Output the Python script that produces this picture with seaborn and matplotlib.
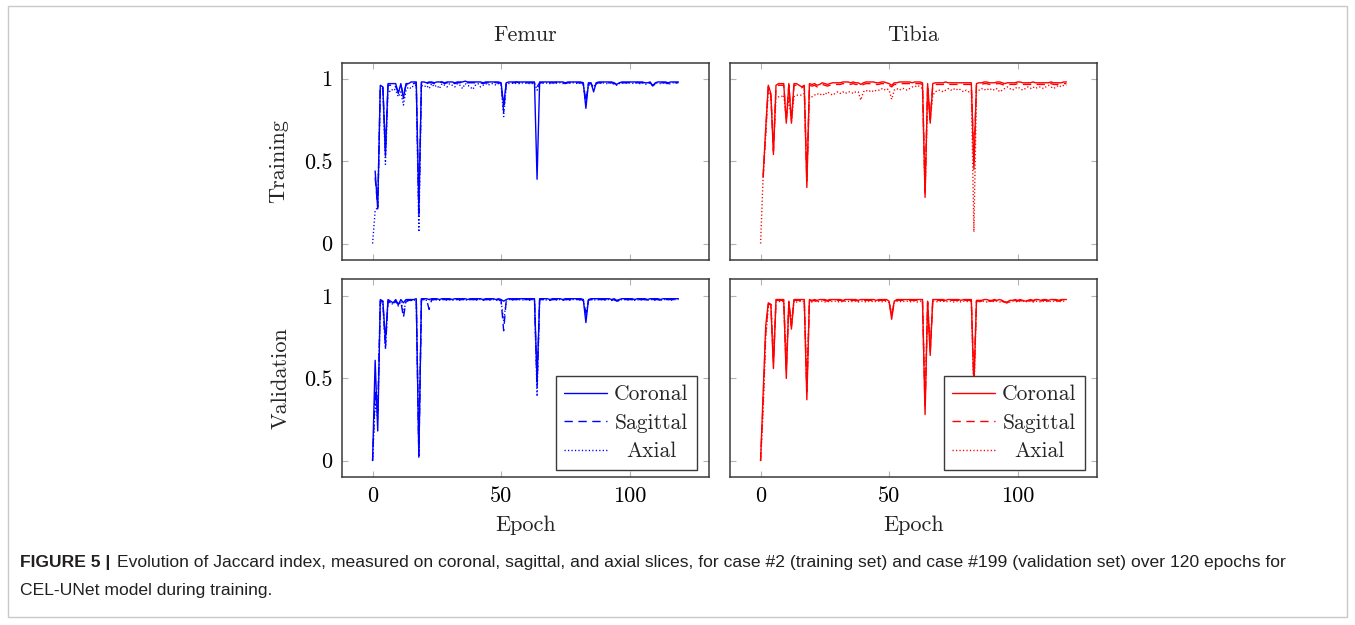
import matplotlib
matplotlib.use("Agg")
import matplotlib.pyplot as plt
import numpy as np
import pandas as pd
import seaborn as sns
from matplotlib.patches import Rectangle

nan = float("nan")

# ---------------- data (Jaccard index per epoch) ----------------
epochs = list(range(120))

femur_train_coronal = [
    nan, .44, .21, .96, .95, .53, .97, .97, .97, .97,
    .91, .97, .88, .97, .97, .98, .98, .98, .21, .98,
    .98, .975, .98, .98, .975, .98, .98, .98, .975, .98,
    .98, .98, .975, .98, .98, .98, .985, .98, .98, .98,
    .98, .98, .98, .975, .98, .98, .98, .98, .98, .98,
    .975, .84, .975, .98, .98, .98, .98, .98, .98, .98,
    .98, .98, .98, .98, .39, .98, .98, .98, .98, .98,
    .98, .98, .98, .98, .98, .975, .98, .98, .98, .98,
    .98, .98, .975, .82, .975, .975, .92, .975, .98, .98,
    .98, .98, .98, .98, .975, .965, .975, .98, .98, .98,
    .98, .98, .98, .98, .98, .98, .975, .975, .98, .955,
    .975, .98, .98, .98, .98, .975, .98, .98, .98, .98]
femur_train_sagittal = [
    nan, .40, .22, .95, .95, .56, .96, .96, .97, .95,
    .92, .96, .90, .96, .97, .97, .97, .975, .16, .975,
    .975, .97, .975, .975, .97, .975, .975, .98, .97, .975,
    .975, .975, .97, .975, .975, .98, .98, .975, .975, .975,
    .975, .975, .975, .97, .975, .975, .975, .98, .975, .975,
    .97, .80, .97, .975, .975, .975, .98, .975, .975, .975,
    .975, .975, .975, .975, .95, .975, .975, .975, .975, .975,
    .975, .975, .98, .975, .975, .97, .975, .975, .975, .975,
    .975, .975, .97, .86, .97, .97, .94, .97, .975, .975,
    .975, .975, .975, .975, .97, .965, .97, .975, .975, .975,
    .975, .975, .975, .975, .975, .975, .97, .97, .975, .96,
    .97, .975, .975, .975, .975, .97, .975, .975, .975, .975]
femur_train_axial = [
    .00, .20, .22, .93, .94, .48, .93, .92, .94, .93,
    .89, .92, .84, .93, .95, .94, .96, .96, .07, .96,
    .95, .96, .94, .97, .95, .96, .94, .97, .96, .95,
    .97, .96, .95, .97, .96, .94, .97, .96, .95, .935,
    .96, .97, .95, .96, .97, .96, .97, .97, .96, .97,
    .96, .77, .96, .97, .97, .975, .97, .97, .975, .97,
    .975, .97, .97, .975, .93, .97, .975, .97, .975, .97,
    .975, .97, .975, .975, .97, .975, .97, .975, .975, .97,
    .975, .97, .96, .86, .96, .965, .95, .97, .975, .97,
    .975, .97, .975, .975, .965, .96, .97, .975, .97, .975,
    .975, .97, .975, .975, .97, .975, .965, .97, .975, .955,
    .97, .975, .97, .975, .975, .965, .97, .975, .975, .975]

tibia_train_coronal = [
    nan, .41, .70, .96, .91, .54, .96, .97, .97, .97,
    .73, .97, .73, .97, .97, .96, .95, .96, .34, .97,
    .965, .97, .96, .965, .975, .97, .965, .97, .975, .975,
    .975, .975, .98, .98, .98, .975, .98, .975, .975, .965,
    .975, .98, .98, .98, .98, .975, .975, .98, .98, .975,
    .97, .96, .975, .975, .98, .98, .98, .98, .98, .975,
    .98, .98, .98, .975, .28, .97, .73, .97, .975, .975,
    .975, .975, .98, .975, .975, .975, .975, .975, .975, .975,
    .975, .975, .975, .45, .97, .975, .975, .98, .98, .975,
    .975, .975, .98, .98, .975, .97, .975, .975, .975, .975,
    .98, .98, .975, .975, .975, .975, .98, .975, .975, .975,
    .975, .975, .975, .98, .975, .975, .975, .975, .98, .98]
tibia_train_sagittal = [
    nan, .40, .68, .95, .90, .56, .95, .96, .96, .96,
    .75, .96, .75, .96, .96, .955, .945, .955, .38, .96,
    .955, .96, .95, .955, .965, .96, .955, .96, .965, .965,
    .965, .965, .97, .97, .97, .965, .97, .965, .965, .955,
    .965, .97, .97, .97, .97, .965, .965, .97, .97, .965,
    .96, .95, .965, .965, .97, .97, .97, .97, .97, .965,
    .97, .97, .97, .965, .32, .96, .75, .96, .965, .965,
    .965, .965, .97, .965, .965, .965, .965, .965, .965, .965,
    .965, .965, .965, .50, .96, .965, .965, .97, .97, .965,
    .965, .965, .97, .97, .965, .96, .965, .965, .965, .965,
    .97, .97, .965, .965, .965, .965, .97, .965, .965, .965,
    .965, .965, .965, .97, .965, .965, .965, .965, .97, .97]
tibia_train_axial = [
    .00, .41, .66, .93, .90, .58, .88, .89, .89, .90,
    .76, .88, .74, .89, .90, .90, .90, .91, .40, .90,
    .89, .90, .91, .90, .91, .90, .92, .91, .90, .91,
    .92, .91, .92, .91, .92, .92, .91, .92, .92, .87,
    .92, .93, .92, .93, .92, .93, .93, .94, .93, .94,
    .93, .875, .93, .94, .93, .94, .94, .93, .94, .95,
    .95, .96, .95, .94, .30, .90, .75, .90, .92, .93,
    .93, .92, .93, .94, .93, .94, .93, .94, .93, .92,
    .93, .92, .93, .07, .92, .93, .94, .93, .94, .93,
    .94, .93, .94, .92, .93, .94, .95, .94, .93, .94,
    .95, .94, .93, .94, .95, .94, .95, .94, .95, .95,
    .94, .95, .96, .95, .94, .95, .96, .95, .96, .96]

femur_val_coronal = [
    .00, .61, .18, .98, .97, .73, .98, .97, .96, .98,
    .95, .98, .96, .98, .98, .98, .98, .985, .02, .985,
    .985, .985, .98, .985, .985, .985, .98, .985, .985, .985,
    .985, .98, .985, .985, .985, .985, .985, .98, .985, .985,
    .985, .985, .985, .98, .985, .985, .985, .985, .98, .985,
    .98, .97, .98, .985, .985, .985, .985, .985, .985, .985,
    .985, .985, .985, .985, .48, .985, .985, .985, .985, .98,
    .985, .985, .985, .985, .98, .985, .985, .985, .985, .985,
    .985, .985, .98, .84, .98, .985, .985, .985, .985, .985,
    .985, .985, .985, .98, .985, .975, .98, .985, .985, .985,
    .985, .985, .98, .985, .985, .985, .985, .98, .985, .985,
    .985, .985, .98, .985, .985, .985, .985, .985, .985, .985]
femur_val_sagittal = [
    .00, .42, .30, .97, .97, .68, .97, .96, .95, .97,
    .95, .97, .87, .97, .975, .975, .975, .98, .03, .98,
    .98, .98, .92, .98, .98, .98, .975, .98, .98, .98,
    .98, .975, .98, .98, .98, .98, .98, .975, .98, .98,
    .98, .98, .98, .975, .98, .98, .98, .98, .975, .98,
    .975, .79, .975, .98, .98, .98, .98, .98, .98, .98,
    .98, .98, .98, .98, .45, .98, .98, .98, .98, .975,
    .98, .98, .98, .98, .975, .98, .98, .98, .98, .98,
    .98, .98, .975, .90, .975, .98, .98, .98, .98, .98,
    .98, .98, .98, .975, .98, .97, .975, .98, .98, .98,
    .98, .98, .975, .98, .98, .98, .98, .975, .98, .98,
    .98, .98, .975, .98, .98, .98, .98, .98, .98, .98]
femur_val_axial = [
    .00, .35, .25, .96, .96, .68, .97, .96, .95, .97,
    .94, .97, .90, .97, .97, .975, .975, .98, .05, .98,
    .98, .975, .98, .98, .975, .98, .975, .98, .98, .975,
    .98, .975, .98, .98, .975, .98, .98, .975, .98, .98,
    .975, .98, .98, .975, .98, .98, .975, .98, .975, .98,
    .97, .85, .97, .98, .98, .975, .98, .98, .975, .98,
    .98, .975, .98, .98, .39, .975, .98, .98, .975, .975,
    .98, .98, .975, .98, .975, .98, .98, .975, .98, .98,
    .98, .975, .975, .88, .975, .98, .98, .975, .98, .98,
    .975, .98, .98, .975, .98, .97, .975, .98, .98, .975,
    .98, .98, .975, .98, .975, .98, .98, .975, .98, .98,
    .975, .98, .975, .98, .98, .98, .975, .98, .98, .98]

tibia_val_coronal = [
    .00, .41, .82, .96, .95, .56, .98, .98, .98, .98,
    .50, .97, .80, .98, .98, .98, .98, .98, .37, .98,
    .975, .98, .975, .98, .98, .98, .975, .98, .98, .98,
    .98, .98, .975, .98, .98, .98, .98, .98, .975, .98,
    .98, .98, .98, .98, .98, .975, .98, .98, .98, .98,
    .97, .86, .97, .98, .98, .98, .98, .98, .98, .98,
    .98, .98, .98, .98, .28, .97, .64, .98, .98, .98,
    .98, .98, .975, .98, .98, .98, .98, .98, .975, .98,
    .98, .98, .98, .45, .975, .975, .975, .98, .98, .975,
    .975, .98, .975, .98, .975, .965, .965, .975, .975, .98,
    .975, .98, .975, .97, .975, .98, .975, .98, .98, .975,
    .98, .98, .975, .98, .98, .98, .975, .98, .98, .98]
tibia_val_sagittal = [
    .00, .36, .78, .95, .95, .60, .975, .975, .975, .975,
    .55, .965, .82, .975, .975, .975, .975, .975, .42, .975,
    .97, .975, .97, .975, .975, .975, .97, .975, .975, .975,
    .975, .975, .97, .975, .975, .975, .975, .975, .97, .975,
    .975, .975, .975, .975, .975, .97, .975, .975, .975, .975,
    .965, .88, .965, .975, .975, .975, .975, .975, .975, .975,
    .975, .975, .975, .975, .32, .965, .66, .975, .975, .975,
    .975, .975, .97, .975, .975, .975, .975, .975, .97, .975,
    .975, .975, .975, .48, .97, .97, .97, .975, .975, .97,
    .97, .975, .97, .975, .97, .965, .96, .97, .97, .975,
    .97, .975, .97, .965, .97, .975, .97, .975, .975, .97,
    .975, .975, .97, .975, .975, .975, .97, .975, .975, .975]
tibia_val_axial = [
    .00, .30, .75, .93, .96, .62, .965, .97, .965, .97,
    .58, .955, .84, .97, .965, .97, .965, .97, .45, .965,
    .965, .97, .965, .97, .97, .965, .97, .965, .97, .97,
    .965, .97, .965, .97, .97, .965, .97, .97, .965, .97,
    .97, .965, .97, .97, .965, .97, .97, .965, .97, .97,
    .96, .90, .96, .97, .97, .965, .97, .97, .965, .97,
    .97, .965, .97, .97, .35, .96, .68, .97, .97, .965,
    .97, .97, .965, .97, .97, .965, .97, .97, .965, .97,
    .97, .965, .97, .40, .965, .965, .97, .97, .965, .97,
    .965, .97, .97, .965, .97, .96, .96, .965, .97, .97,
    .965, .97, .97, .965, .97, .97, .965, .97, .97, .965,
    .97, .97, .965, .97, .97, .97, .965, .97, .97, .97]

bones = ["Femur", "Tibia"]
splits = ["Training", "Validation"]
planes = ["Coronal", "Sagittal", "Axial"]
x_ticks = [0, 50, 100]
x_tick_labels = ["0", "50", "100"]
y_ticks = [0, 0.5, 1]
y_tick_labels = ["0", "0.5", "1"]
caption_head = "FIGURE 5 |"
caption_line1 = ("Evolution of Jaccard index, measured on coronal, sagittal, and axial slices, "
                 "for case #2 (training set) and case #199 (validation set) over 120 epochs for")
caption_line2 = "CEL-UNet model during training."

series = {
    ("Femur", "Training"): [femur_train_coronal, femur_train_sagittal, femur_train_axial],
    ("Tibia", "Training"): [tibia_train_coronal, tibia_train_sagittal, tibia_train_axial],
    ("Femur", "Validation"): [femur_val_coronal, femur_val_sagittal, femur_val_axial],
    ("Tibia", "Validation"): [tibia_val_coronal, tibia_val_sagittal, tibia_val_axial],
}

rows = []
for (bone, split), lists in series.items():
    for plane, vals in zip(planes, lists):
        for e, v in zip(epochs, vals):
            rows.append((bone, split, plane, e, v))
df = pd.DataFrame(rows, columns=["bone", "split", "plane", "epoch", "jaccard"])

# ---------------- style ----------------
bone_colors = {"Femur": "#0000ff", "Tibia": "#ff0000"}
plane_styles = {"Coronal": "-", "Sagittal": (0, (6, 4)), "Axial": (0, (0.9, 1.6))}

sns.set_style("white")
plt.rcParams["font.family"] = ["cmr10"]
plt.rcParams["mathtext.fontset"] = "cm"
plt.rcParams["axes.formatter.use_mathtext"] = True
plt.rcParams["axes.unicode_minus"] = False

W, H = 1355, 625
DPI = 100
fig = plt.figure(figsize=(W / DPI, H / DPI), dpi=DPI)
fig.patch.set_facecolor("white")


def rect(x0, y0, x1, y1):
    return [x0 / W, 1 - y1 / H, (x1 - x0) / W, (y1 - y0) / H]


pos = {
    ("Femur", "Training"): (342, 63, 709, 260),
    ("Tibia", "Training"): (730, 63, 1097, 260),
    ("Femur", "Validation"): (342, 279, 709, 477),
    ("Tibia", "Validation"): (730, 279, 1097, 477),
}
ylims = {"Training": (-0.1, 1.095), "Validation": (-0.1, 1.105)}

FS = 16
LEG_FS = 15.5
legends = []
for (bone, split), p in pos.items():
    ax = fig.add_axes(rect(*p))
    sub = df[(df.bone == bone) & (df.split == split)]
    for plane in planes:
        d = sub[sub.plane == plane].dropna()
        sns.lineplot(data=d, x="epoch", y="jaccard", ax=ax, color=bone_colors[bone],
                     linestyle=plane_styles[plane], linewidth=1.0, estimator=None,
                     sort=False, label=plane)
    ax.set_xlim(-11.9, 130.9)
    ax.set_ylim(*ylims[split])
    ax.set_xticks(x_ticks)
    ax.set_yticks(y_ticks)
    if split == "Validation":
        ax.set_xticklabels(x_tick_labels)
        ax.set_xlabel("Epoch", fontsize=FS)
        ax.xaxis.set_label_coords(0.5, -0.245)
        ax.xaxis.label.set_va("center")
    else:
        ax.set_xticklabels([])
        ax.set_xlabel("")
    if bone == "Femur":
        ax.set_yticklabels(y_tick_labels)
        ax.set_ylabel(split, fontsize=FS)
        ax.yaxis.set_label_coords(-0.174 if split == "Training" else -0.168, 0.5)
        ax.yaxis.label.set_va("center")
    else:
        ax.set_yticklabels([])
        ax.set_ylabel("")
    ax.tick_params(axis="both", which="both", direction="in", length=4.5, width=0.8,
                   color="#b4b4b4", labelsize=FS, labelcolor="black",
                   top=True, right=True, bottom=True, left=True, pad=7)
    for s in ax.spines.values():
        s.set_color("#3a3a3a")
        s.set_linewidth(1.1)
    if split == "Training":
        ax.set_title(bone, fontsize=FS, pad=16)
    leg = ax.get_legend()
    if leg is not None:
        leg.remove()
    if split == "Validation":
        leg = ax.legend(loc="lower right", bbox_to_anchor=(0.967, 0.035), fontsize=LEG_FS,
                        frameon=True, fancybox=False, framealpha=1, edgecolor="#3a3a3a",
                        handlelength=2.0, handletextpad=0.3, labelspacing=0.42,
                        borderpad=0.4, borderaxespad=0)
        leg.get_frame().set_linewidth(1.0)
        legends.append(leg)

# figure border
fig.patches.append(Rectangle((8 / W, 1 - 617 / H), 1339 / W, 611 / H, transform=fig.transFigure,
                             fill=False, edgecolor="#c8c8c8", linewidth=1.0))

# caption
cap_font = ["Liberation Sans", "DejaVu Sans"]
cap_fs = 11.5
t_head = fig.text(20 / W, 1 - 563 / H, caption_head, fontsize=cap_fs, fontweight="bold",
                  family=cap_font, va="center", ha="left", color="#231f20")
t_l1 = fig.text(0.5, 1 - 563 / H, caption_line1, fontsize=cap_fs,
                family=cap_font, va="center", ha="left", color="#231f20")
t_l2 = fig.text(20 / W, 1 - 591 / H, caption_line2, fontsize=cap_fs,
                family=cap_font, va="center", ha="left", color="#231f20")
fig.canvas.draw()
r = fig.canvas.get_renderer()
total = t_head.get_window_extent(r).width + 6 + t_l1.get_window_extent(r).width
scale = 1270 / total
for t in (t_head, t_l1, t_l2):
    t.set_fontsize(cap_fs * scale)
fig.canvas.draw()
bb = t_head.get_window_extent(r)
t_l1.set_x((bb.x1 + 6 * scale) / W)

# centre the legend labels within their column (as in the original legend)
try:
    for leg in legends:
        texts = leg.get_texts()
        widths = [t.get_window_extent(r).width for t in texts]
        wmax = max(widths)
        rows_ = leg._legend_handle_box.get_children()[0].get_children()
        for row, w in zip(rows_, widths):
            row.sep = row.sep + (wmax - w) / 2 * 72 / DPI
except Exception:
    pass

fig.savefig("out.png", dpi=DPI, facecolor="white")
